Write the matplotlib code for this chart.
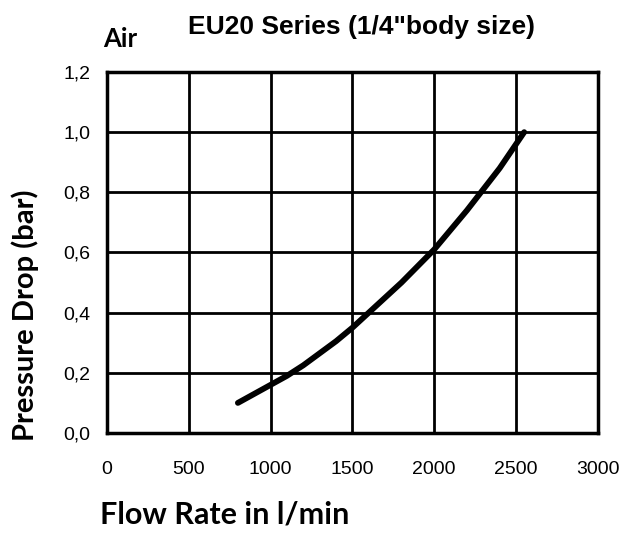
import numpy as np
import matplotlib.pyplot as plt

flow = [800, 1000, 1100, 1200, 1400, 1500, 1700, 1800, 2000, 2200, 2400, 2550]
drop = [0.10, 0.16, 0.19, 0.225, 0.305, 0.35, 0.45, 0.50, 0.61, 0.74, 0.88, 1.0]
xticks = [0, 500, 1000, 1500, 2000, 2500, 3000]
yticks = [0.0, 0.2, 0.4, 0.6, 0.8, 1.0, 1.2]
ylabels = ['0,0', '0,2', '0,4', '0,6', '0,8', '1,0', '1,2']

fig = plt.figure(figsize=(6.24, 5.35), dpi=100)
ax = fig.add_axes([0.1715, 0.1907, 0.7865, 0.6747])

ax.plot(flow, drop, color='black', lw=4.2, solid_capstyle='round')

ax.set_xlim(0, 3000)
ax.set_ylim(0, 1.2)
ax.set_xticks(xticks)
ax.set_xticklabels([str(v) for v in xticks], family='Liberation Sans', size=14)
ax.set_yticks(yticks)
ax.set_yticklabels(ylabels, family='Liberation Sans', size=14)
ax.tick_params(axis='x', length=0, pad=20)
ax.tick_params(axis='y', length=0, pad=12)
ax.grid(True, color='black', lw=2)
for s in ax.spines.values():
    s.set_linewidth(2.5)

ax.set_ylabel('Pressure Drop (bar)', family='Lato', weight='bold', size=21)
ax.yaxis.set_label_coords(-0.138, 0.327)
fig.text(0.16, 0.022, 'Flow Rate in l/min', family='Lato', weight='bold', size=22, ha='left')
fig.text(0.580, 0.937, 'EU20 Series (1/4"body size)', family='Liberation Sans',
         weight='bold', size=19, ha='center')
fig.text(0.166, 0.912, 'Air', family='Lato', weight='bold', size=18.5, ha='left')

fig.savefig('out.png')
